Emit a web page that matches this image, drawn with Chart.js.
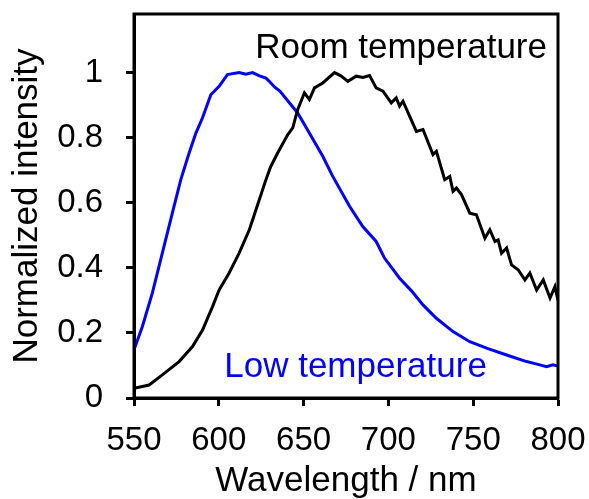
<!DOCTYPE html>
<html>
<head>
<meta charset="utf-8">
<script src="https://cdn.jsdelivr.net/npm/chart.js@4"></script>
<style>
  body { margin: 0; background: #fff; }
</style>
</head>
<body>
<canvas id="spectra" width="589" height="499"></canvas>
<script>
const lowWavelength = [550, 554.9, 560.8, 566.7, 572.6, 577.6, 582.5, 586.5, 590.4, 595.3, 600.2, 605.1, 612, 616, 619.9, 624, 627.8, 630, 633, 636, 646.5, 653.4, 661.3, 667.2, 677.1, 684.9, 692.8, 697.7, 706.6, 713.5, 720.4, 728.3, 738.1, 748, 757.9, 769.7, 781.5, 787, 793.3, 797, 800];
const lowIntensity = [0.148, 0.219, 0.322, 0.445, 0.568, 0.671, 0.753, 0.814, 0.861, 0.932, 0.958, 0.994, 1.0, 0.995, 1.0, 0.99, 0.983, 0.972, 0.955, 0.943, 0.876, 0.814, 0.743, 0.681, 0.589, 0.527, 0.481, 0.43, 0.368, 0.33, 0.286, 0.245, 0.204, 0.173, 0.153, 0.132, 0.112, 0.105, 0.096, 0.102, 0.098];

const roomWavelength = [550, 558.9, 566.7, 576.6, 584.5, 590.4, 596.3, 600.2, 606.1, 612, 618, 622.9, 627.8, 630.5, 634.7, 640.6, 643.6, 646.5, 650.5, 653.4, 656.4, 661.3, 668.2, 672, 676.1, 681, 685, 688.9, 692.8, 696.8, 701.7, 704.6, 706.6, 708.6, 712.5, 716.5, 720.4, 726.3, 728.3, 733.2, 736.2, 738.1, 740.1, 743.1, 748, 751.9, 756.9, 759.8, 762.8, 764.7, 766.7, 769.7, 772.6, 776.5, 780.5, 783.4, 787.4, 791.3, 795.3, 798.2, 800];
const roomIntensity = [0.03, 0.04, 0.071, 0.112, 0.158, 0.209, 0.281, 0.332, 0.384, 0.445, 0.517, 0.594, 0.671, 0.71, 0.753, 0.809, 0.83, 0.886, 0.938, 0.917, 0.953, 0.968, 1.0, 0.99, 0.973, 0.989, 0.985, 0.991, 0.953, 0.943, 0.907, 0.922, 0.897, 0.912, 0.866, 0.819, 0.825, 0.748, 0.758, 0.671, 0.681, 0.635, 0.645, 0.625, 0.568, 0.563, 0.491, 0.517, 0.481, 0.486, 0.445, 0.461, 0.409, 0.394, 0.363, 0.384, 0.332, 0.363, 0.307, 0.342, 0.30];

const xTicks = [550, 600, 650, 700, 750, 800];
const yTicks = [0, 0.2, 0.4, 0.6, 0.8, 1];

const toPoints = (xs, ys) => xs.map((x, i) => ({ x: x, y: ys[i] }));

// frame around the plot area + the two curve labels
const framePlugin = {
  id: "frame",
  afterDatasetsDraw(chart) {
    const { ctx, chartArea: a, scales } = chart;
    ctx.save();
    ctx.strokeStyle = "#000";
    ctx.lineWidth = 3;
    ctx.strokeRect(a.left, a.top, a.right - a.left, a.bottom - a.top);

    ctx.font = "35px 'Liberation Sans', Arial, sans-serif";
    ctx.textBaseline = "alphabetic";
    ctx.fillStyle = "#000";
    ctx.textAlign = "right";
    ctx.fillText("Room temperature", scales.x.getPixelForValue(793.5), scales.y.getPixelForValue(1.046));
    ctx.fillStyle = "#0000ff";
    ctx.textAlign = "left";
    ctx.fillText("Low temperature", scales.x.getPixelForValue(603.2), scales.y.getPixelForValue(0.065));
    ctx.restore();
  }
};

const ctx = document.getElementById("spectra");

new Chart(ctx, {
  type: "line",
  data: {
    datasets: [
      {
        label: "Room temperature",
        data: toPoints(roomWavelength, roomIntensity),
        borderColor: "#000",
        borderWidth: 3,
        pointRadius: 0,
        tension: 0,
      },
      {
        label: "Low temperature",
        data: toPoints(lowWavelength, lowIntensity),
        borderColor: "#0000ff",
        borderWidth: 3,
        pointRadius: 0,
        tension: 0,
      },
    ],
  },
  options: {
    responsive: false,
    animation: false,
    devicePixelRatio: 1,
    layout: { padding: { top: 14, right: 31, left: 0, bottom: 0 } },
    plugins: {
      legend: { display: false },
      tooltip: { enabled: false },
    },
    scales: {
      x: {
        type: "linear",
        min: 550,
        max: 800,
        afterBuildTicks: (scale) => {
          scale.ticks = xTicks.map((v) => ({ value: v }));
        },
        afterFit: (scale) => {
          scale.height = 101;
          scale.paddingLeft = 0;
          scale.paddingRight = 0;
        },
        grid: {
          drawOnChartArea: false,
          tickLength: 8,
          tickWidth: 3,
          tickColor: "#000",
        },
        border: { display: true, color: "#000", width: 3 },
        ticks: {
          color: "#000",
          padding: 15,
          maxRotation: 0,
          font: { family: "'Liberation Sans', Arial, sans-serif", size: 33 },
        },
        title: {
          display: true,
          text: "Wavelength / nm",
          color: "#000",
          padding: { top: 0, bottom: -3 },
          font: { family: "'Liberation Sans', Arial, sans-serif", size: 35 },
        },
      },
      y: {
        type: "linear",
        min: 0,
        max: 1.18,
        afterBuildTicks: (scale) => {
          scale.ticks = yTicks.map((v) => ({ value: v }));
        },
        afterFit: (scale) => {
          scale.width = 134;
          scale.paddingTop = 0;
          scale.paddingBottom = 0;
        },
        grid: {
          drawOnChartArea: false,
          tickLength: 8,
          tickWidth: 3,
          tickColor: "#000",
        },
        border: { display: true, color: "#000", width: 3 },
        ticks: {
          color: "#000",
          padding: 23,
          callback: (v) => String(v),
          font: { family: "'Liberation Sans', Arial, sans-serif", size: 33 },
        },
        title: {
          display: true,
          text: "Normalized intensity",
          color: "#000",
          padding: { top: 6, bottom: 0 },
          font: { family: "'Liberation Sans', Arial, sans-serif", size: 35 },
        },
      },
    },
  },
  plugins: [framePlugin],
});
</script>
</body>
</html>
